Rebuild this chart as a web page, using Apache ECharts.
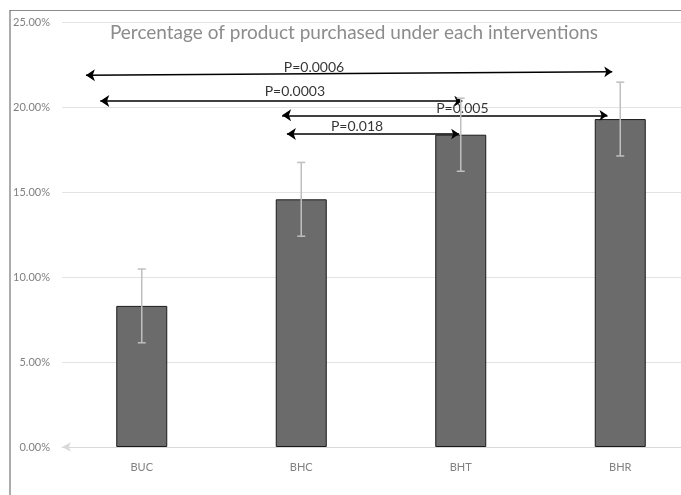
<!DOCTYPE html>
<html>
<head>
<meta charset="utf-8">
<script src="https://cdn.jsdelivr.net/npm/echarts@6/dist/echarts.min.js"></script>
<style>
  html, body { margin: 0; padding: 0; background: #ffffff; overflow: hidden; }
  /* the plot area runs a little past the right edge of the window */
  #chart { width: 700px; height: 495px; }
</style>
</head>
<body>
<div id="chart"></div>
<script>
// Interventions and the share of product purchased under each (percent)
const categories = ['BUC', 'BHC', 'BHT', 'BHR'];
const purchaseRate = [8.30, 14.57, 18.37, 19.29];
const errorMargin = [2.17, 2.17, 2.15, 2.17];

// Value-axis ticks (percent)
const yTicks = [0, 5, 10, 15, 20, 25];

// Pairwise comparisons: bracket arrows between interventions (category-index units, percent)
const pLabels = ['P=0.0006', 'P=0.0003', 'P=0.005', 'P=0.018'];
const pFromX = [-0.35, -0.26, 0.88, 0.91];
const pToX = [2.95, 2.01, 2.92, 1.99];
const pFromY = [21.87, 20.35, 19.51, 18.41];
const pToY = [22.07, 20.35, 19.51, 18.41];
const pLabelX = [1.08, 0.96, 2.01, 1.35];
const pLabelY = [22.33, 20.92, 19.90, 18.86];

const chart = echarts.init(document.getElementById('chart'), null, { renderer: 'canvas' });

const arrowData = pLabels.map((name, i) => ({
  name: name,
  coords: [[pFromX[i], pFromY[i]], [pToX[i], pToY[i]]]
}));
const labelData = pLabels.map((name, i) => ({ name: name, value: [pLabelX[i], pLabelY[i]] }));
const errorData = purchaseRate.map((v, i) => [i, v - errorMargin[i], v + errorMargin[i]]);

const option = {
  backgroundColor: '#ffffff',
  animation: false,
  title: {
    text: 'Percentage of product purchased under each interventions',
    left: 349,
    top: 18,
    textAlign: 'center',
    textStyle: { color: '#8c8c8c', fontSize: 19, fontWeight: 'normal', fontFamily: 'Lato' }
  },
  graphic: [
    { type: 'line', shape: { x1: 10, y1: 10.5, x2: 700, y2: 10.5 }, style: { stroke: '#8c8c8c', lineWidth: 1 } },
    { type: 'line', shape: { x1: 10, y1: 10, x2: 10, y2: 495 }, style: { stroke: '#595959', lineWidth: 1 } }
  ],
  grid: { left: 62, top: 22, bottom: 48, right: 0 },
  xAxis: [
    {
      type: 'category',
      data: categories,
      axisTick: { show: false },
      axisLine: {
        show: true,
        symbol: ['arrow', 'none'],
        symbolSize: [7, 9],
        lineStyle: { color: '#d9d9d9', width: 1 }
      },
      axisLabel: { color: '#808080', fontSize: 11, margin: 15, fontFamily: 'Lato' }
    },
    { type: 'value', min: -0.5, max: 3.5, show: false }
  ],
  yAxis: {
    type: 'value',
    min: yTicks[0],
    max: yTicks[yTicks.length - 1],
    interval: yTicks[1] - yTicks[0],
    axisLine: { show: false },
    axisTick: { show: false },
    splitLine: { lineStyle: { color: '#e3e3e3', width: 1 } },
    axisLabel: {
      color: '#808080',
      fontSize: 11,
      margin: 12,
      fontFamily: 'Lato',
      formatter: v => v.toFixed(2) + '%'
    }
  },
  series: [
    {
      type: 'bar',
      data: purchaseRate,
      barWidth: 51,
      itemStyle: { color: '#6b6b6b', borderColor: '#1a1a1a', borderWidth: 1 },
      z: 2
    },
    {
      type: 'lines',
      coordinateSystem: 'cartesian2d',
      xAxisIndex: 1,
      symbol: ['arrow', 'arrow'],
      symbolSize: [9, 8],
      lineStyle: { color: '#000000', width: 1.5, opacity: 1 },
      data: arrowData,
      z: 3
    },
    {
      type: 'scatter',
      xAxisIndex: 1,
      symbolSize: 0,
      data: labelData,
      label: {
        show: true,
        position: 'inside',
        formatter: p => p.name,
        color: '#000000',
        fontSize: 14,
        fontFamily: 'Lato'
      },
      z: 4
    },
    {
      type: 'custom',
      data: errorData,
      renderItem: (params, api) => {
        const lo = api.coord([api.value(0), api.value(1)]);
        const hi = api.coord([api.value(0), api.value(2)]);
        const cap = 4;
        const style = { stroke: '#bfbfbf', lineWidth: 1.5 };
        return {
          type: 'group',
          children: [
            { type: 'line', shape: { x1: lo[0], y1: lo[1], x2: hi[0], y2: hi[1] }, style: style },
            { type: 'line', shape: { x1: lo[0] - cap, y1: lo[1], x2: lo[0] + cap, y2: lo[1] }, style: style },
            { type: 'line', shape: { x1: hi[0] - cap, y1: hi[1], x2: hi[0] + cap, y2: hi[1] }, style: style }
          ]
        };
      },
      z: 5
    }
  ]
};

chart.setOption(option);
</script>
</body>
</html>
